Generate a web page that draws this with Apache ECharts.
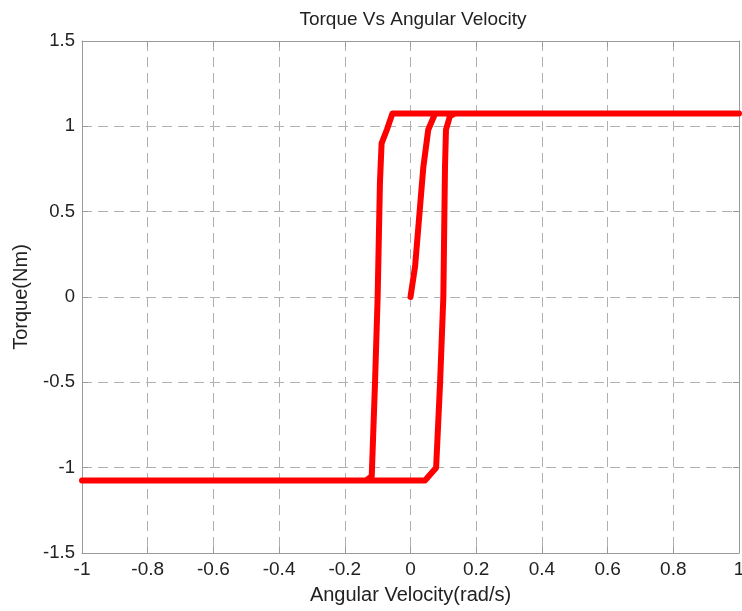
<!DOCTYPE html>
<html>
<head>
<meta charset="utf-8">
<script src="https://cdn.jsdelivr.net/npm/echarts@6/dist/echarts.min.js"></script>
<style>html,body{margin:0;padding:0;background:#fff}#c{width:742px;height:611px}</style>
</head>
<body>
<div id="c"></div>
<script>
const titleText = "Torque Vs Angular Velocity";
const xName = "Angular Velocity(rad/s)";
const yName = "Torque(Nm)";
// Path of the torque vs angular velocity curve, in drawing order
const velocity = [0, 0.014, 0.039, 0.054, 0.075, 1.0, 0.135, 0.120, 0.108, 0.105, 0.100, 0.090, 0.078, 0.044, -1.0, -0.135, -0.118, -0.108, -0.100, -0.093, -0.088, -0.072, -0.055, 1.0];
const torque   = [0, 0.18, 0.76, 0.98, 1.075, 1.075, 1.075, 1.06, 0.98, 0.76, 0, -0.506, -1.0, -1.075, -1.075, -1.075, -1.05, -0.5, 0, 0.67, 0.90, 0.98, 1.075, 1.075];
const xTicks = [-1, -0.8, -0.6, -0.4, -0.2, 0, 0.2, 0.4, 0.6, 0.8, 1];
const yTicks = [-1.5, -1, -0.5, 0, 0.5, 1, 1.5];

const data = velocity.map((v, i) => [v, torque[i]]);
const font = "'Liberation Sans', Arial, sans-serif";
const axisCol = '#9a9a9a';
const chart = echarts.init(document.getElementById('c'));
const fmt = v => String(Math.round(v * 10) / 10);
chart.setOption({
  animation: false,
  title: { text: titleText, left: 408, top: 5, textAlign: 'center',
    textStyle: { fontFamily: font, fontSize: 19, fontWeight: 'normal', color: '#222' } },
  grid: { left: 82, right: 3, top: 41, bottom: 58, containLabel: false, outerBoundsMode: 'none' },
  xAxis: [{
    type: 'value', min: xTicks[0], max: xTicks[xTicks.length - 1], interval: 0.2,
    name: xName, nameLocation: 'middle', nameGap: 32,
    nameTextStyle: { fontFamily: font, fontSize: 20, color: '#222' },
    axisLine: { show: true, onZero: false, lineStyle: { color: axisCol } },
    axisTick: { show: true, inside: true, length: 6, lineStyle: { color: axisCol } },
    axisLabel: { fontFamily: font, fontSize: 19, color: '#222', margin: 7, formatter: fmt, hideOverlap: false },
    splitLine: { show: true, lineStyle: { color: '#b0b0b0', type: [10, 6], width: 1 } }
  }, {
    type: 'value', position: 'top', min: -1, max: 1, interval: 0.2,
    axisLine: { show: true, onZero: false, lineStyle: { color: axisCol } },
    axisTick: { show: true, inside: true, length: 6, lineStyle: { color: axisCol } },
    axisLabel: { show: false }, splitLine: { show: false }
  }],
  yAxis: [{
    type: 'value', min: yTicks[0], max: yTicks[yTicks.length - 1], interval: 0.5,
    name: yName, nameLocation: 'middle', nameGap: 51, nameRotate: 90,
    nameTextStyle: { fontFamily: font, fontSize: 20, color: '#222' },
    axisLine: { show: true, onZero: false, lineStyle: { color: axisCol } },
    axisTick: { show: true, inside: true, length: 6, lineStyle: { color: axisCol } },
    axisLabel: { fontFamily: font, fontSize: 18.5, color: '#222', margin: 7, formatter: fmt },
    splitLine: { show: true, lineStyle: { color: '#b0b0b0', type: [10, 6], width: 1 } }
  }, {
    type: 'value', position: 'right', min: -1.5, max: 1.5, interval: 0.5,
    axisLine: { show: true, onZero: false, lineStyle: { color: axisCol } },
    axisTick: { show: true, inside: true, length: 6, lineStyle: { color: axisCol } },
    axisLabel: { show: false }, splitLine: { show: false }
  }],
  series: [{
    type: 'line', data: data, showSymbol: false, symbol: 'none',
    lineStyle: { color: '#ff0000', width: 6, join: 'round', cap: 'round' },
    clip: true
  }]
});
</script>
</body>
</html>
